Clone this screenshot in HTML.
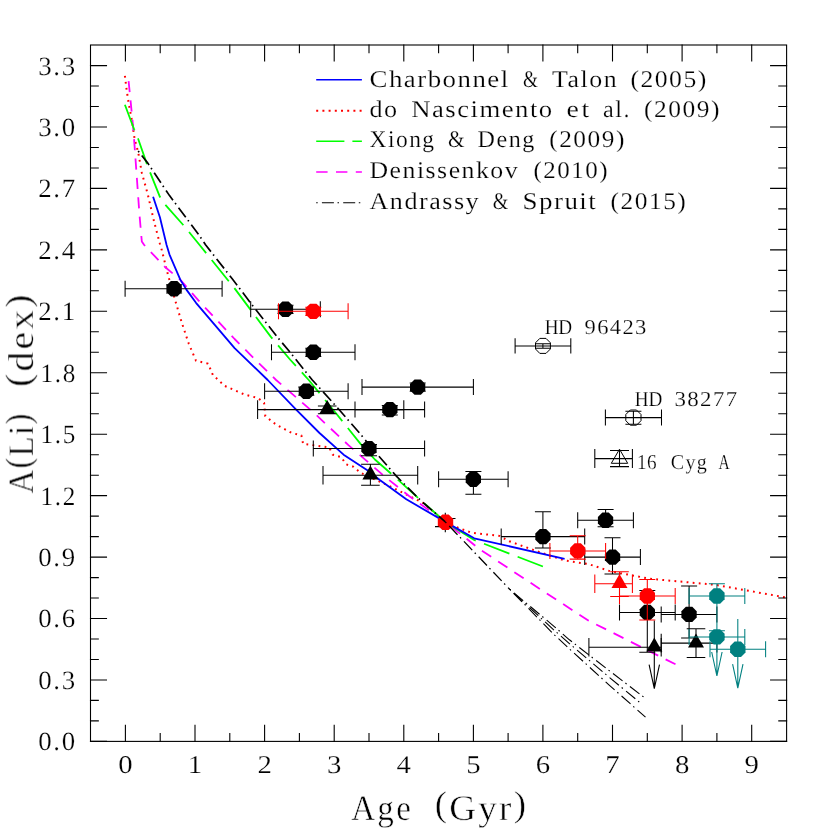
<!DOCTYPE html>
<html><head><meta charset="utf-8"><title>A(Li) vs Age</title>
<style>html,body{margin:0;padding:0;background:#fff}body{width:830px;height:830px;position:relative;overflow:hidden;font-family:"Liberation Serif",serif}</style></head>
<body>
<svg width="830" height="830" viewBox="0 0 830 830" style="position:absolute;left:0;top:0">
<rect x="0" y="0" width="830" height="830" fill="#fff"/>
<polyline points="124.9,75.8 126.6,89.6 128.6,102.8 132.2,122.1 134.6,139.0 138.2,152.2 141.8,172.7 147.8,194.4 153.9,220.9 159.9,243.8 161.1,247.4 167.1,271.5 173.1,293.2 181.6,322.1 188.8,343.8 196.0,360.7 208.1,363.6 212.9,375.1 224.9,386.0 244.2,394.4 258.1,398.1 264.1,402.9 265.3,416.1 276.1,424.6 291.8,433.0 301.4,435.4 303.1,443.9 312.3,445.1 329.2,447.5 332.8,454.7 341.2,457.1 346.0,464.3 353.3,466.7 360.5,472.8 378.6,481.2 391.8,487.2 408.7,495.7 423.1,502.9 445.3,521.9 458.6,528.0 471.8,532.8 499.5,535.9 509.2,541.2 535.7,550.8 564.6,560.5 588.7,564.1 610.4,571.3 650.2,578.8 715.3,584.8 786.0,597.5" fill="none" stroke="#ff0000" stroke-width="2.0" stroke-linejoin="round" stroke-linecap="butt" stroke-dasharray="1.8 4.3"/>
<polyline points="128.6,81.1 131.0,105.2 132.9,124.5 134.6,146.2 137.0,180.0 139.4,213.7 141.8,241.4 144.2,245.0 164.7,266.7 180.4,279.9 198.4,300.4 234.6,339.0 258.7,363.1 276.1,380.0 312.3,411.3 348.4,445.1 384.6,476.4 408.7,495.7 445.3,521.9 480.2,549.6 540.5,589.4 588.7,620.7 620.0,636.4 675.5,664.3" fill="none" stroke="#ff00ff" stroke-width="1.8" stroke-linejoin="round" stroke-linecap="butt" stroke-dasharray="11.10 8.33"/>
<polyline points="124.9,104.8 134.1,129.3 138.2,139.0 146.6,163.1 150.2,172.7 159.9,196.8 164.7,204.0 182.8,224.5 188.8,231.7 199.6,245.0 234.6,288.4 270.7,336.6 290.0,359.5 308.7,380.0 336.4,413.7 360.5,443.9 374.9,459.5 394.2,476.4 418.3,498.1 445.3,521.9 474.2,540.0 542.9,566.5" fill="none" stroke="#00ff00" stroke-width="1.8" stroke-linejoin="round" stroke-linecap="butt" stroke-dasharray="27.21 8.84"/>
<polyline points="153.1,196.8 159.9,217.3 166.6,245.0 169.5,254.6 180.4,279.9 186.4,289.6 196.0,302.8 234.6,348.1 267.7,380.0 295.4,408.9 319.5,433.0 343.6,454.7 367.7,470.4 379.8,480.0 406.3,499.3 445.3,521.9 474.2,538.3 564.6,558.8" fill="none" stroke="#0000ff" stroke-width="1.8" stroke-linejoin="round" stroke-linecap="butt"/>
<g stroke="#000" stroke-width="1.1" fill="none" stroke-linecap="square">
<rect x="90.5" y="45.0" width="696.1" height="696.4"/>
<path d="M125.4 741.4V725.4M125.4 45.0V61.0"/>
<path d="M160.2 741.4V733.6M160.2 45.0V52.8"/>
<path d="M195.0 741.4V725.4M195.0 45.0V61.0"/>
<path d="M229.8 741.4V733.6M229.8 45.0V52.8"/>
<path d="M264.6 741.4V725.4M264.6 45.0V61.0"/>
<path d="M299.4 741.4V733.6M299.4 45.0V52.8"/>
<path d="M334.2 741.4V725.4M334.2 45.0V61.0"/>
<path d="M369.0 741.4V733.6M369.0 45.0V52.8"/>
<path d="M403.8 741.4V725.4M403.8 45.0V61.0"/>
<path d="M438.6 741.4V733.6M438.6 45.0V52.8"/>
<path d="M473.4 741.4V725.4M473.4 45.0V61.0"/>
<path d="M508.1 741.4V733.6M508.1 45.0V52.8"/>
<path d="M542.9 741.4V725.4M542.9 45.0V61.0"/>
<path d="M577.7 741.4V733.6M577.7 45.0V52.8"/>
<path d="M612.5 741.4V725.4M612.5 45.0V61.0"/>
<path d="M647.3 741.4V733.6M647.3 45.0V52.8"/>
<path d="M682.1 741.4V725.4M682.1 45.0V61.0"/>
<path d="M716.9 741.4V733.6M716.9 45.0V52.8"/>
<path d="M751.7 741.4V725.4M751.7 45.0V61.0"/>
<path d="M90.5 741.4H106.5M786.6 741.4H770.6"/>
<path d="M90.5 720.9H98.3M786.6 720.9H778.8"/>
<path d="M90.5 700.4H98.3M786.6 700.4H778.8"/>
<path d="M90.5 680.0H106.5M786.6 680.0H770.6"/>
<path d="M90.5 659.5H98.3M786.6 659.5H778.8"/>
<path d="M90.5 639.0H98.3M786.6 639.0H778.8"/>
<path d="M90.5 618.5H106.5M786.6 618.5H770.6"/>
<path d="M90.5 598.0H98.3M786.6 598.0H778.8"/>
<path d="M90.5 577.6H98.3M786.6 577.6H778.8"/>
<path d="M90.5 557.1H106.5M786.6 557.1H770.6"/>
<path d="M90.5 536.6H98.3M786.6 536.6H778.8"/>
<path d="M90.5 516.1H98.3M786.6 516.1H778.8"/>
<path d="M90.5 495.6H106.5M786.6 495.6H770.6"/>
<path d="M90.5 475.2H98.3M786.6 475.2H778.8"/>
<path d="M90.5 454.7H98.3M786.6 454.7H778.8"/>
<path d="M90.5 434.2H106.5M786.6 434.2H770.6"/>
<path d="M90.5 413.7H98.3M786.6 413.7H778.8"/>
<path d="M90.5 393.2H98.3M786.6 393.2H778.8"/>
<path d="M90.5 372.8H106.5M786.6 372.8H770.6"/>
<path d="M90.5 352.3H98.3M786.6 352.3H778.8"/>
<path d="M90.5 331.8H98.3M786.6 331.8H778.8"/>
<path d="M90.5 311.3H106.5M786.6 311.3H770.6"/>
<path d="M90.5 290.8H98.3M786.6 290.8H778.8"/>
<path d="M90.5 270.4H98.3M786.6 270.4H778.8"/>
<path d="M90.5 249.9H106.5M786.6 249.9H770.6"/>
<path d="M90.5 229.4H98.3M786.6 229.4H778.8"/>
<path d="M90.5 208.9H98.3M786.6 208.9H778.8"/>
<path d="M90.5 188.4H106.5M786.6 188.4H770.6"/>
<path d="M90.5 168.0H98.3M786.6 168.0H778.8"/>
<path d="M90.5 147.5H98.3M786.6 147.5H778.8"/>
<path d="M90.5 127.0H106.5M786.6 127.0H770.6"/>
<path d="M90.5 106.5H98.3M786.6 106.5H778.8"/>
<path d="M90.5 86.0H98.3M786.6 86.0H778.8"/>
<path d="M90.5 65.6H106.5M786.6 65.6H770.6"/>
</g>
<path d="M125.1 288.8H222.1M125.1 280.8V296.8M222.1 280.8V296.8M174.1 288.8V284.7M166.1 284.7H182.1M174.1 288.8V292.9M166.1 292.9H182.1" stroke="#000" stroke-width="1.05" fill="none"/>
<path d="M250.7 309.3H320.3M250.7 301.3V317.3M320.3 301.3V317.3M285.5 309.3V305.2M277.5 305.2H293.5M285.5 309.3V313.4M277.5 313.4H293.5" stroke="#000" stroke-width="1.05" fill="none"/>
<path d="M271.5 352.3H355.0M271.5 344.3V360.3M355.0 344.3V360.3M313.3 352.3V348.2M305.3 348.2H321.3M313.3 352.3V356.4M305.3 356.4H321.3" stroke="#000" stroke-width="1.05" fill="none"/>
<path d="M264.6 391.2H348.1M264.6 383.2V399.2M348.1 383.2V399.2M306.3 391.2V387.1M298.3 387.1H314.3M306.3 391.2V395.3M298.3 395.3H314.3" stroke="#000" stroke-width="1.05" fill="none"/>
<path d="M362.0 387.1H473.4M362.0 379.1V395.1M473.4 379.1V395.1M417.7 387.1V383.0M409.7 383.0H425.7M417.7 387.1V391.2M409.7 391.2H425.7" stroke="#000" stroke-width="1.05" fill="none"/>
<path d="M257.6 409.6H403.8M257.6 400.3V418.9M403.8 400.3V418.9M327.2 409.6V405.9M317.9 405.9H336.5M327.2 409.6V413.7M317.9 413.7H336.5" stroke="#000" stroke-width="1.05" fill="none"/>
<path d="M355.0 409.6H424.6M355.0 401.6V417.6M424.6 401.6V417.6M389.8 409.6V405.5M381.8 405.5H397.8M389.8 409.6V414.9M381.8 414.9H397.8" stroke="#000" stroke-width="1.05" fill="none"/>
<path d="M313.3 448.5H424.6M313.3 440.5V456.5M424.6 440.5V456.5M369.0 448.5V444.4M361.0 444.4H377.0M369.0 448.5V455.7M361.0 455.7H377.0" stroke="#000" stroke-width="1.05" fill="none"/>
<path d="M323.0 475.2H417.7M323.0 465.9V484.5M417.7 465.9V484.5M370.4 475.2V464.3M361.1 464.3H379.7M370.4 475.2V485.2M361.1 485.2H379.7" stroke="#000" stroke-width="1.05" fill="none"/>
<path d="M438.6 479.3H508.1M438.6 471.3V487.3M508.1 471.3V487.3M473.4 479.3V471.5M465.4 471.5H481.4M473.4 479.3V494.2M465.4 494.2H481.4" stroke="#000" stroke-width="1.05" fill="none"/>
<path d="M501.2 536.6H584.7M501.2 528.6V544.6M584.7 528.6V544.6M542.9 536.6V511.8M534.9 511.8H550.9M542.9 536.6V547.9M534.9 547.9H550.9" stroke="#000" stroke-width="1.05" fill="none"/>
<path d="M577.7 520.2H633.4M577.7 512.2V528.2M633.4 512.2V528.2M605.6 520.2V509.4M597.6 509.4H613.6M605.6 520.2V526.8M597.6 526.8H613.6" stroke="#000" stroke-width="1.05" fill="none"/>
<path d="M584.7 557.1H640.4M584.7 549.1V565.1M640.4 549.1V565.1M612.5 557.1V537.8M604.5 537.8H620.5M612.5 557.1V573.9M604.5 573.9H620.5" stroke="#000" stroke-width="1.05" fill="none"/>
<path d="M619.5 612.4H675.2M619.5 604.4V620.4M675.2 604.4V620.4M647.3 612.4V590.5M639.3 590.5H655.3M647.3 612.4V652.3M639.3 652.3H655.3" stroke="#000" stroke-width="1.05" fill="none"/>
<path d="M661.2 614.4H716.9M661.2 606.4V622.4M716.9 606.4V622.4M689.1 614.4V586.0M681.1 586.0H697.1M689.1 614.4V638.0M681.1 638.0H697.1" stroke="#000" stroke-width="1.05" fill="none"/>
<path d="M588.9 647.2H661.2M588.9 637.9V656.5M661.2 637.9V656.5M654.3 647.2V620.6" stroke="#000" stroke-width="1.05" fill="none"/>
<path d="M654.3 647.2V688.7M649.1 664.7L654.3 688.7L659.5 664.7" stroke="#000" stroke-width="1.1" fill="none"/>
<path d="M661.2 643.1H716.9M661.2 633.8V652.4M716.9 633.8V652.4M696.0 643.1V628.8M686.7 628.8H705.3M696.0 643.1V657.4M686.7 657.4H705.3" stroke="#000" stroke-width="1.05" fill="none"/>
<polygon points="181.8,292.0 177.3,296.5 170.9,296.5 166.4,292.0 166.4,285.6 170.9,281.1 177.3,281.1 181.8,285.6" fill="#000"/>
<polygon points="293.1,312.4 288.6,316.9 282.3,316.9 277.8,312.4 277.8,306.1 282.3,301.6 288.6,301.6 293.1,306.1" fill="#000"/>
<polygon points="321.0,355.5 316.5,359.9 310.1,359.9 305.6,355.5 305.6,349.1 310.1,344.6 316.5,344.6 321.0,349.1" fill="#000"/>
<polygon points="314.0,394.4 309.5,398.9 303.2,398.9 298.7,394.4 298.7,388.0 303.2,383.5 309.5,383.5 314.0,388.0" fill="#000"/>
<polygon points="425.3,390.3 420.9,394.8 414.5,394.8 410.0,390.3 410.0,383.9 414.5,379.4 420.9,379.4 425.3,383.9" fill="#000"/>
<polygon points="327.2,400.0 319.2,413.9 335.2,413.9" fill="#000"/>
<polygon points="397.5,412.8 393.0,417.3 386.7,417.3 382.2,412.8 382.2,406.4 386.7,402.0 393.0,402.0 397.5,406.4" fill="#000"/>
<polygon points="376.6,451.7 372.1,456.2 365.8,456.2 361.3,451.7 361.3,445.4 365.8,440.9 372.1,440.9 376.6,445.4" fill="#000"/>
<polygon points="370.4,465.6 362.4,479.5 378.4,479.5" fill="#000"/>
<polygon points="481.0,482.4 476.5,486.9 470.2,486.9 465.7,482.4 465.7,476.1 470.2,471.6 476.5,471.6 481.0,476.1" fill="#000"/>
<polygon points="550.6,539.8 546.1,544.3 539.8,544.3 535.3,539.8 535.3,533.4 539.8,528.9 546.1,528.9 550.6,533.4" fill="#000"/>
<polygon points="613.2,523.4 608.7,527.9 602.4,527.9 597.9,523.4 597.9,517.0 602.4,512.5 608.7,512.5 613.2,517.0" fill="#000"/>
<polygon points="620.2,560.3 615.7,564.7 609.4,564.7 604.9,560.3 604.9,553.9 609.4,549.4 615.7,549.4 620.2,553.9" fill="#000"/>
<polygon points="655.0,615.6 650.5,620.0 644.1,620.0 639.7,615.6 639.7,609.2 644.1,604.7 650.5,604.7 655.0,609.2" fill="#000"/>
<polygon points="696.7,617.6 692.3,622.1 685.9,622.1 681.4,617.6 681.4,611.2 685.9,606.8 692.3,606.8 696.7,611.2" fill="#000"/>
<polygon points="654.3,637.6 646.3,651.5 662.3,651.5" fill="#000"/>
<polygon points="696.0,633.5 688.0,647.4 704.0,647.4" fill="#000"/>
<path d="M278.5 311.3H348.1M278.5 303.3V319.3M348.1 303.3V319.3M313.3 311.3V307.2M305.3 307.2H321.3M313.3 311.3V315.4M305.3 315.4H321.3" stroke="#ff0000" stroke-width="1.05" fill="none"/>
<path d="M445.3 512.7V532.3M435.0 526.6H445.5M445.5 518.5H455.5" stroke="#000" stroke-width="1.1" fill="none"/>
<path d="M549.9 550.9H605.6M549.9 542.9V558.9M605.6 542.9V558.9M577.7 550.9V535.8M569.7 535.8H585.7M577.7 550.9V559.1M569.7 559.1H585.7" stroke="#ff0000" stroke-width="1.05" fill="none"/>
<path d="M594.8 583.7H632.4M594.8 574.4V593.0M632.4 574.4V593.0M619.5 583.7V571.8M610.2 571.8H628.8M619.5 583.7V596.4M610.2 596.4H628.8" stroke="#ff0000" stroke-width="1.05" fill="none"/>
<path d="M619.5 596.0H675.2M619.5 588.0V604.0M675.2 588.0V604.0M647.3 596.0V579.4M639.3 579.4H655.3M647.3 596.0V620.0M639.3 620.0H655.3" stroke="#ff0000" stroke-width="1.05" fill="none"/>
<polygon points="321.0,314.5 316.5,319.0 310.1,319.0 305.6,314.5 305.6,308.1 310.1,303.7 316.5,303.7 321.0,308.1" fill="#ff0000"/>
<polygon points="453.2,525.4 448.7,529.9 442.3,529.9 437.8,525.4 437.8,519.1 442.3,514.6 448.7,514.6 453.2,519.1" fill="#ff0000"/>
<polygon points="585.4,554.1 580.9,558.6 574.6,558.6 570.1,554.1 570.1,547.8 574.6,543.3 580.9,543.3 585.4,547.8" fill="#ff0000"/>
<polygon points="619.5,574.1 611.5,588.0 627.5,588.0" fill="#ff0000"/>
<polygon points="655.0,599.2 650.5,603.7 644.1,603.7 639.7,599.2 639.7,592.8 644.1,588.3 650.5,588.3 655.0,592.8" fill="#ff0000"/>
<path d="M689.1 596.0H744.8M689.1 588.0V604.0M744.8 588.0V604.0M716.9 596.0V583.7M708.9 583.7H724.9M716.9 596.0V637.0M708.9 637.0H724.9" stroke="#008080" stroke-width="1.05" fill="none"/>
<path d="M689.1 637.0H744.8M689.1 629.0V645.0M744.8 629.0V645.0M716.9 637.0V630.8M708.9 630.8H724.9" stroke="#008080" stroke-width="1.05" fill="none"/>
<path d="M716.9 637.0V676.0M711.7 652.0L716.9 676.0L722.1 652.0" stroke="#008080" stroke-width="1.1" fill="none"/>
<path d="M710.0 649.2H765.6M710.0 641.2V657.2M765.6 641.2V657.2M737.8 649.2V619.1" stroke="#008080" stroke-width="1.05" fill="none"/>
<path d="M737.8 649.2V688.2M732.6 664.2L737.8 688.2L743.0 664.2" stroke="#008080" stroke-width="1.1" fill="none"/>
<polygon points="724.6,599.2 720.1,603.7 713.7,603.7 709.2,599.2 709.2,592.8 713.7,588.3 720.1,588.3 724.6,592.8" fill="#008080"/>
<polygon points="724.6,640.1 720.1,644.6 713.7,644.6 709.2,640.1 709.2,633.8 713.7,629.3 720.1,629.3 724.6,633.8" fill="#008080"/>
<polygon points="745.5,652.4 741.0,656.9 734.6,656.9 730.1,652.4 730.1,646.1 734.6,641.6 741.0,641.6 745.5,646.1" fill="#008080"/>
<polyline points="138.2,151.0 147.8,163.1 169.5,195.6 198.4,234.2 205.7,245.0 232.2,278.7 251.4,304.0 278.0,337.8 290.0,352.2 312.3,380.0 336.4,406.5 360.5,434.2 378.6,455.9 396.6,476.4 420.7,500.5 445.3,521.9" fill="none" stroke="#000" stroke-width="1.7" stroke-linejoin="round" stroke-linecap="butt" stroke-dasharray="1.5 4.2 12 3.6"/>
<polyline points="445.3,521.9 509.6,589.2" fill="none" stroke="#000" stroke-width="1.3" stroke-linejoin="round" stroke-linecap="butt" stroke-dasharray="1.5 4.2 12 3.6"/>
<polyline points="509.6,589.2 554.0,626.3 569.4,639.8 608.9,670.4 643.6,697.0" fill="none" stroke="#000" stroke-width="1.1" stroke-linejoin="round" stroke-linecap="butt" stroke-dasharray="1.5 4.2 12 3.6"/>
<polyline points="509.6,589.2 554.0,630.1 569.4,643.6 608.9,677.0 642.4,704.6" fill="none" stroke="#000" stroke-width="1.1" stroke-linejoin="round" stroke-linecap="butt" stroke-dasharray="1.5 4.2 12 3.6"/>
<polyline points="509.6,589.2 554.0,634.5 569.4,648.9 608.9,684.8 645.5,717.2" fill="none" stroke="#000" stroke-width="1.1" stroke-linejoin="round" stroke-linecap="butt" stroke-dasharray="1.5 4.2 12 3.6"/>
<path d="M515.1 345.9H570.8M515.1 338.3V353.5M570.8 338.3V353.5M542.9 345.9V343.7M535.3 343.7H550.5M542.9 345.9V348.2M535.3 348.2H550.5" stroke="#000" stroke-width="1.05" fill="none"/>
<polygon points="550.4,349.0 546.0,353.4 539.8,353.4 535.5,349.0 535.5,342.8 539.8,338.4 546.0,338.4 550.4,342.8" fill="none" stroke="#000" stroke-width="1"/>
<path d="M605.4 417.6H661.5M605.4 409.6V425.6M661.5 409.6V425.6M633.4 417.6V411.3M625.4 411.3H641.4M633.4 417.6V424.2M625.4 424.2H641.4" stroke="#000" stroke-width="1.05" fill="none"/>
<polygon points="641.0,420.7 636.5,425.2 630.3,425.2 625.8,420.7 625.8,414.5 630.3,410.0 636.5,410.0 641.0,414.5" fill="none" stroke="#000" stroke-width="1"/>
<path d="M594.8 458.6H632.4M594.8 449.1V468.1M632.4 449.1V468.1M619.5 458.6V450.4M610.0 450.4H629.0M619.5 458.6V466.6M610.0 466.6H629.0" stroke="#000" stroke-width="1.05" fill="none"/>
<polygon points="619.5,449.2 611.3,463.3 627.7,463.3" fill="none" stroke="#000" stroke-width="1"/>
<path d="M316.2 79.8H361.9" stroke="#0000ff" stroke-width="1.6"/>
<path d="M316.2 110.7H361.9" stroke="#ff0000" stroke-width="1.9" stroke-dasharray="2 4.2"/>
<path d="M316.2 141.3H361.9" stroke="#00ff00" stroke-width="1.6" stroke-dasharray="28.2 8"/>
<path d="M316.2 172.0H361.9" stroke="#ff00ff" stroke-width="1.6" stroke-dasharray="11.4 8.4"/>
<path d="M316.2 202.7H361.9" stroke="#000" stroke-width="1.1" stroke-dasharray="1.5 4.2 12 3.6"/>
<g opacity="0.999" text-rendering="geometricPrecision">
<g transform="translate(369.5,86.7) scale(1.119,1)"><text x="0" y="0" font-family="Liberation Serif, serif" font-size="24" fill="#000" stroke="#fff" stroke-width="0.2" textLength="124.0" lengthAdjust="spacing">Charbonnel</text></g>
<g transform="translate(523.0,86.7) scale(0.804,1)"><text x="0" y="0" font-family="Liberation Serif, serif" font-size="24" fill="#000" stroke="#fff" stroke-width="0.2">&amp;</text></g>
<g transform="translate(552.0,86.7) scale(1.079,1)"><text x="0" y="0" font-family="Liberation Serif, serif" font-size="24" fill="#000" stroke="#fff" stroke-width="0.2" textLength="59.9" lengthAdjust="spacing">Talon</text></g>
<g transform="translate(630.4,86.7) scale(1.069,1)"><text x="0" y="0" font-family="Liberation Serif, serif" font-size="24" fill="#000" stroke="#fff" stroke-width="0.2" textLength="71.0" lengthAdjust="spacing">(2005)</text></g>
<g transform="translate(369.5,117.0) scale(1.088,1)"><text x="0" y="0" font-family="Liberation Serif, serif" font-size="24" fill="#000" stroke="#fff" stroke-width="0.2" textLength="25.4" lengthAdjust="spacing">do</text></g>
<g transform="translate(411.2,117.0) scale(1.112,1)"><text x="0" y="0" font-family="Liberation Serif, serif" font-size="24" fill="#000" stroke="#fff" stroke-width="0.2" textLength="126.8" lengthAdjust="spacing">Nascimento</text></g>
<g transform="translate(566.5,117.0) scale(1.160,1)"><text x="0" y="0" font-family="Liberation Serif, serif" font-size="24" fill="#000" stroke="#fff" stroke-width="0.2" textLength="19.7" lengthAdjust="spacing">et</text></g>
<g transform="translate(603.1,117.0) scale(1.008,1)"><text x="0" y="0" font-family="Liberation Serif, serif" font-size="24" fill="#000" stroke="#fff" stroke-width="0.2" textLength="26.3" lengthAdjust="spacing">al.</text></g>
<g transform="translate(644.1,117.0) scale(1.061,1)"><text x="0" y="0" font-family="Liberation Serif, serif" font-size="24" fill="#000" stroke="#fff" stroke-width="0.2" textLength="71.1" lengthAdjust="spacing">(2009)</text></g>
<g transform="translate(369.5,147.1) scale(0.977,1)"><text x="0" y="0" font-family="Liberation Serif, serif" font-size="24" fill="#000" stroke="#fff" stroke-width="0.2" textLength="66.1" lengthAdjust="spacing">Xiong</text></g>
<g transform="translate(447.9,147.1) scale(0.889,1)"><text x="0" y="0" font-family="Liberation Serif, serif" font-size="24" fill="#000" stroke="#fff" stroke-width="0.2">&amp;</text></g>
<g transform="translate(477.6,147.1) scale(1.004,1)"><text x="0" y="0" font-family="Liberation Serif, serif" font-size="24" fill="#000" stroke="#fff" stroke-width="0.2" textLength="56.5" lengthAdjust="spacing">Deng</text></g>
<g transform="translate(549.2,147.1) scale(1.057,1)"><text x="0" y="0" font-family="Liberation Serif, serif" font-size="24" fill="#000" stroke="#fff" stroke-width="0.2" textLength="71.1" lengthAdjust="spacing">(2009)</text></g>
<g transform="translate(369.5,178.0) scale(1.074,1)"><text x="0" y="0" font-family="Liberation Serif, serif" font-size="24" fill="#000" stroke="#fff" stroke-width="0.2" textLength="137.9" lengthAdjust="spacing">Denissenkov</text></g>
<g transform="translate(533.4,178.0) scale(1.041,1)"><text x="0" y="0" font-family="Liberation Serif, serif" font-size="24" fill="#000" stroke="#fff" stroke-width="0.2" textLength="71.2" lengthAdjust="spacing">(2010)</text></g>
<g transform="translate(369.5,208.8) scale(1.088,1)"><text x="0" y="0" font-family="Liberation Serif, serif" font-size="24" fill="#000" stroke="#fff" stroke-width="0.2" textLength="100.3" lengthAdjust="spacing">Andrassy</text></g>
<g transform="translate(492.7,208.8) scale(0.836,1)"><text x="0" y="0" font-family="Liberation Serif, serif" font-size="24" fill="#000" stroke="#fff" stroke-width="0.2">&amp;</text></g>
<g transform="translate(522.4,208.8) scale(1.125,1)"><text x="0" y="0" font-family="Liberation Serif, serif" font-size="24" fill="#000" stroke="#fff" stroke-width="0.2" textLength="65.3" lengthAdjust="spacing">Spruit</text></g>
<g transform="translate(610.6,208.8) scale(1.058,1)"><text x="0" y="0" font-family="Liberation Serif, serif" font-size="24" fill="#000" stroke="#fff" stroke-width="0.2" textLength="71.1" lengthAdjust="spacing">(2015)</text></g>
<g transform="translate(544.8,333.8) scale(0.900,1)"><text x="0" y="0" font-family="Liberation Serif, serif" font-size="21.3" fill="#000" stroke="#fff" stroke-width="0.2" textLength="30.3" lengthAdjust="spacing">HD</text></g>
<g transform="translate(584.6,333.8) scale(1.059,1)"><text x="0" y="0" font-family="Liberation Serif, serif" font-size="21.3" fill="#000" stroke="#fff" stroke-width="0.2" textLength="58.3" lengthAdjust="spacing">96423</text></g>
<g transform="translate(634.7,405.6) scale(0.900,1)"><text x="0" y="0" font-family="Liberation Serif, serif" font-size="21.3" fill="#000" stroke="#fff" stroke-width="0.2" textLength="30.7" lengthAdjust="spacing">HD</text></g>
<g transform="translate(674.5,405.6) scale(1.077,1)"><text x="0" y="0" font-family="Liberation Serif, serif" font-size="21.3" fill="#000" stroke="#fff" stroke-width="0.2" textLength="58.2" lengthAdjust="spacing">38277</text></g>
<g transform="translate(636.9,469.2) scale(0.900,1)"><text x="0" y="0" font-family="Liberation Serif, serif" font-size="21.3" fill="#000" stroke="#fff" stroke-width="0.2" textLength="21.9" lengthAdjust="spacing">16</text></g>
<g transform="translate(670.7,469.2) scale(0.942,1)"><text x="0" y="0" font-family="Liberation Serif, serif" font-size="21.3" fill="#000" stroke="#fff" stroke-width="0.2" textLength="38.3" lengthAdjust="spacing">Cyg</text></g>
<g transform="translate(718.4,469.2) scale(0.728,1)"><text x="0" y="0" font-family="Liberation Serif, serif" font-size="21.3" fill="#000" stroke="#fff" stroke-width="0.2">A</text></g>
<g transform="translate(38.3,750.3) scale(1.018,1)"><text x="0" y="0" font-family="Liberation Serif, serif" font-size="26.4" fill="#000" stroke="#fff" stroke-width="0.2" textLength="36.2" lengthAdjust="spacing">0.0</text></g>
<g transform="translate(38.3,688.9) scale(1.018,1)"><text x="0" y="0" font-family="Liberation Serif, serif" font-size="26.4" fill="#000" stroke="#fff" stroke-width="0.2" textLength="36.2" lengthAdjust="spacing">0.3</text></g>
<g transform="translate(38.3,627.4) scale(1.018,1)"><text x="0" y="0" font-family="Liberation Serif, serif" font-size="26.4" fill="#000" stroke="#fff" stroke-width="0.2" textLength="36.2" lengthAdjust="spacing">0.6</text></g>
<g transform="translate(38.3,566.0) scale(1.018,1)"><text x="0" y="0" font-family="Liberation Serif, serif" font-size="26.4" fill="#000" stroke="#fff" stroke-width="0.2" textLength="36.2" lengthAdjust="spacing">0.9</text></g>
<g transform="translate(40.5,504.5) scale(0.952,1)"><text x="0" y="0" font-family="Liberation Serif, serif" font-size="26.4" fill="#000" stroke="#fff" stroke-width="0.2" textLength="36.5" lengthAdjust="spacing">1.2</text></g>
<g transform="translate(40.5,443.1) scale(0.952,1)"><text x="0" y="0" font-family="Liberation Serif, serif" font-size="26.4" fill="#000" stroke="#fff" stroke-width="0.2" textLength="36.5" lengthAdjust="spacing">1.5</text></g>
<g transform="translate(40.5,381.7) scale(0.952,1)"><text x="0" y="0" font-family="Liberation Serif, serif" font-size="26.4" fill="#000" stroke="#fff" stroke-width="0.2" textLength="36.5" lengthAdjust="spacing">1.8</text></g>
<g transform="translate(38.3,320.2) scale(1.018,1)"><text x="0" y="0" font-family="Liberation Serif, serif" font-size="26.4" fill="#000" stroke="#fff" stroke-width="0.2" textLength="36.2" lengthAdjust="spacing">2.1</text></g>
<g transform="translate(38.3,258.8) scale(1.018,1)"><text x="0" y="0" font-family="Liberation Serif, serif" font-size="26.4" fill="#000" stroke="#fff" stroke-width="0.2" textLength="36.2" lengthAdjust="spacing">2.4</text></g>
<g transform="translate(38.3,197.3) scale(1.018,1)"><text x="0" y="0" font-family="Liberation Serif, serif" font-size="26.4" fill="#000" stroke="#fff" stroke-width="0.2" textLength="36.2" lengthAdjust="spacing">2.7</text></g>
<g transform="translate(38.3,135.9) scale(1.018,1)"><text x="0" y="0" font-family="Liberation Serif, serif" font-size="26.4" fill="#000" stroke="#fff" stroke-width="0.2" textLength="36.2" lengthAdjust="spacing">3.0</text></g>
<g transform="translate(38.3,74.5) scale(1.018,1)"><text x="0" y="0" font-family="Liberation Serif, serif" font-size="26.4" fill="#000" stroke="#fff" stroke-width="0.2" textLength="36.2" lengthAdjust="spacing">3.3</text></g>
<g transform="translate(118.2,772.6) scale(1.125,1)"><text x="0" y="0" font-family="Liberation Serif, serif" font-size="25.6" fill="#000" stroke="#fff" stroke-width="0.2">0</text></g>
<g transform="translate(187.8,772.6) scale(1.125,1)"><text x="0" y="0" font-family="Liberation Serif, serif" font-size="25.6" fill="#000" stroke="#fff" stroke-width="0.2">1</text></g>
<g transform="translate(257.4,772.6) scale(1.125,1)"><text x="0" y="0" font-family="Liberation Serif, serif" font-size="25.6" fill="#000" stroke="#fff" stroke-width="0.2">2</text></g>
<g transform="translate(327.0,772.6) scale(1.125,1)"><text x="0" y="0" font-family="Liberation Serif, serif" font-size="25.6" fill="#000" stroke="#fff" stroke-width="0.2">3</text></g>
<g transform="translate(396.6,772.6) scale(1.125,1)"><text x="0" y="0" font-family="Liberation Serif, serif" font-size="25.6" fill="#000" stroke="#fff" stroke-width="0.2">4</text></g>
<g transform="translate(466.2,772.6) scale(1.125,1)"><text x="0" y="0" font-family="Liberation Serif, serif" font-size="25.6" fill="#000" stroke="#fff" stroke-width="0.2">5</text></g>
<g transform="translate(535.7,772.6) scale(1.125,1)"><text x="0" y="0" font-family="Liberation Serif, serif" font-size="25.6" fill="#000" stroke="#fff" stroke-width="0.2">6</text></g>
<g transform="translate(605.3,772.6) scale(1.125,1)"><text x="0" y="0" font-family="Liberation Serif, serif" font-size="25.6" fill="#000" stroke="#fff" stroke-width="0.2">7</text></g>
<g transform="translate(674.9,772.6) scale(1.125,1)"><text x="0" y="0" font-family="Liberation Serif, serif" font-size="25.6" fill="#000" stroke="#fff" stroke-width="0.2">8</text></g>
<g transform="translate(744.5,772.6) scale(1.125,1)"><text x="0" y="0" font-family="Liberation Serif, serif" font-size="25.6" fill="#000" stroke="#fff" stroke-width="0.2">9</text></g>
<g transform="translate(351.2,819.6) scale(0.919,1)"><text x="0" y="0" font-family="Liberation Serif, serif" font-size="36" fill="#000" stroke="#fff" stroke-width="0.5" textLength="64.9" lengthAdjust="spacing">Age</text></g>
<g transform="translate(434.7,819.6) scale(1.030,1)"><text x="0" y="0" font-family="Liberation Serif, serif" font-size="36" fill="#000" stroke="#fff" stroke-width="0.5" textLength="88.7" lengthAdjust="spacing"><tspan dy="-3.2">(</tspan><tspan dy="3.2">G</tspan>yr<tspan dy="-3.2">)</tspan></text></g>
<g transform="translate(33,493.5) rotate(-90)">
<g transform="translate(0.0,0.0) scale(0.900,1)"><text x="0" y="0" font-family="Liberation Serif, serif" font-size="36" fill="#000" stroke="#fff" stroke-width="0.5" textLength="88.8" lengthAdjust="spacing">A<tspan dy="-3.2">(</tspan><tspan dy="3.2">L</tspan>i<tspan dy="-3.2">)</tspan></text></g>
<g transform="translate(106.5,0.0) scale(1.099,1)"><text x="0" y="0" font-family="Liberation Serif, serif" font-size="36" fill="#000" stroke="#fff" stroke-width="0.5" textLength="84.1" lengthAdjust="spacing"><tspan dy="-3.2">(</tspan><tspan dy="3.2">d</tspan>ex<tspan dy="-3.2">)</tspan></text></g>
</g>
</g>
</svg>
</body></html>
